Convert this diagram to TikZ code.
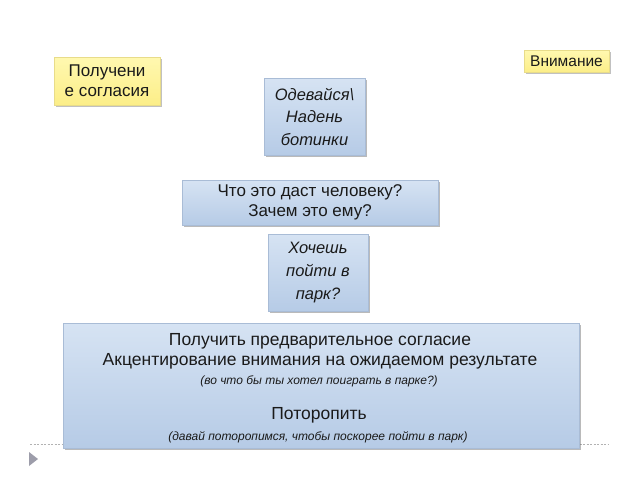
\documentclass[tikz,border=0pt]{standalone}
\usepackage{fontspec}
\setmainfont{Liberation Sans}
\usetikzlibrary{shadows}
\definecolor{bluetop}{HTML}{D6E3F3}
\definecolor{bluebot}{HTML}{B6CBE6}
\definecolor{bluedraw}{HTML}{A9BCD6}
\definecolor{yeltop}{HTML}{FFF8B0}
\definecolor{yelbot}{HTML}{FCEE88}
\definecolor{yeldraw}{HTML}{E8DC8A}
\definecolor{txt}{HTML}{1A1A1A}
\tikzset{
  bluebox/.style={draw=bluedraw, line width=0.6pt, top color=bluetop, bottom color=bluebot,
    drop shadow={shadow xshift=1.5pt, shadow yshift=-2pt, opacity=0.45, fill=black!60},
    inner sep=0pt, align=center, text=txt},
  yelbox/.style={draw=yeldraw, line width=0.5pt, top color=yeltop, bottom color=yelbot,
    drop shadow={shadow xshift=1.5pt, shadow yshift=-2pt, opacity=0.4, fill=black!60},
    inner sep=0pt, align=center, text=txt},
  plain/.style={inner sep=0pt, text=txt, align=center}
}
\begin{document}
\begin{tikzpicture}[x=1pt,y=-1pt]
\useasboundingbox[fill=white] (0,0) rectangle (640,480);
% dashed baseline
\coordinate (dl) at (30,444);
\coordinate (dr) at (608,444);
\draw[gray!60, dashed, line width=0.5pt, dash pattern=on 2pt off 1.5pt] (dl) -- (dr);
\fill[fill=black!25!blue!10!gray!70] (29,452) -- (29,466) -- (38,459) -- cycle;

\node[yelbox, minimum width=106pt, minimum height=48pt, font=\fontsize{17}{20}\selectfont] (soglasie) at (107,81) {Получени\\е согласия};
\node[yelbox, minimum width=85pt, minimum height=22pt, font=\fontsize{15.5}{17}\selectfont] (vnimanie) at (566.5,61) {Внимание};

\node[bluebox, minimum width=101pt, minimum height=77pt, font=\fontsize{16.5}{22.5}\selectfont\itshape] (odev) at (314.5,116.5) {Одевайся\textbackslash\\Надень\\ботинки};
\node[bluebox, minimum width=256pt, minimum height=45pt, font=\fontsize{17}{20.5}\selectfont] (chto) at (310,202.5) {Что это даст человеку?\\Зачем это ему?};
\node[bluebox, minimum width=100pt, minimum height=77pt, font=\fontsize{16.5}{23}\selectfont\itshape] (park) at (318,272.5) {Хочешь\\пойти в\\парк?};

\node[bluebox, minimum width=516pt, minimum height=125pt] (big) at (321,385.5) {};
\node[plain, font=\fontsize{17.5}{20}\selectfont] (l1) at (320,341) {Получить предварительное согласие};
\node[plain, font=\fontsize{17.5}{20}\selectfont] (l2) at (320,361) {Акцентирование внимания на ожидаемом результате};
\node[plain, font=\fontsize{12}{14}\selectfont\itshape] (l3) at (319,381) {(во что бы ты хотел поиграть в парке?)};
\node[plain, font=\fontsize{17.5}{20}\selectfont] (l4) at (319,415) {Поторопить};
\node[plain, font=\fontsize{12}{14}\selectfont\itshape] (l5) at (318,437) {(давай поторопимся, чтобы поскорее пойти в парк)};
\end{tikzpicture}
\end{document}
